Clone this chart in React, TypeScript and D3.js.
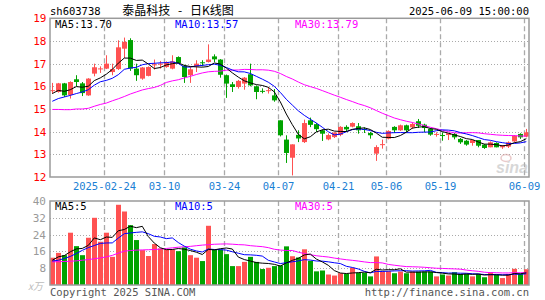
import React from "react";
import * as d3 from "d3";

const dates = [
  "2025-02-11","2025-02-12","2025-02-13","2025-02-14","2025-02-17","2025-02-18","2025-02-19","2025-02-20","2025-02-21","2025-02-24",
  "2025-02-25","2025-02-26","2025-02-27","2025-02-28","2025-03-03","2025-03-04","2025-03-05","2025-03-06","2025-03-07","2025-03-10",
  "2025-03-11","2025-03-12","2025-03-13","2025-03-14","2025-03-17","2025-03-18","2025-03-19","2025-03-20","2025-03-21","2025-03-24",
  "2025-03-25","2025-03-26","2025-03-27","2025-03-28","2025-03-31","2025-04-01","2025-04-02","2025-04-03","2025-04-07","2025-04-08",
  "2025-04-09","2025-04-10","2025-04-11","2025-04-14","2025-04-15","2025-04-16","2025-04-17","2025-04-18","2025-04-21","2025-04-22",
  "2025-04-23","2025-04-24","2025-04-25","2025-04-28","2025-04-29","2025-04-30","2025-05-06","2025-05-07","2025-05-08","2025-05-09",
  "2025-05-12","2025-05-13","2025-05-14","2025-05-15","2025-05-16","2025-05-19","2025-05-20","2025-05-21","2025-05-22","2025-05-23",
  "2025-05-26","2025-05-27","2025-05-28","2025-05-29","2025-05-30","2025-06-03","2025-06-04","2025-06-05","2025-06-06","2025-06-09",
];

const open = [
  15.80,15.75,16.13,15.62,16.31,16.13,15.60,16.56,16.76,16.78,
  16.63,16.76,17.66,18.04,16.78,16.34,16.46,16.94,16.98,16.85,
  16.78,17.29,16.90,16.49,16.88,17.06,17.07,17.32,17.18,16.49,
  16.09,15.97,16.12,16.53,16.00,15.80,15.80,15.60,14.50,13.65,
  12.85,13.86,13.54,14.50,14.33,14.06,13.66,13.76,13.86,14.21,
  14.22,14.24,14.12,13.94,13.03,13.42,13.69,14.21,14.06,14.28,
  14.19,14.46,14.31,14.12,13.88,13.85,13.85,13.90,13.68,13.60,
  13.50,13.63,13.43,13.31,13.50,13.31,13.34,13.57,13.90,13.78,
];
const high = [
  16.15,16.15,16.15,16.22,16.49,16.19,16.36,17.00,16.88,17.37,
  17.00,18.03,18.15,18.12,17.00,16.85,16.88,17.18,17.12,17.10,
  17.37,17.32,16.95,16.85,17.15,17.15,17.85,17.41,17.20,16.52,
  16.19,16.28,16.41,17.00,16.04,15.91,15.97,15.88,14.50,13.84,
  13.44,14.06,14.53,14.62,14.38,14.10,13.92,13.97,14.24,14.28,
  14.41,14.38,14.19,13.99,13.40,13.65,14.06,14.24,14.31,14.31,
  14.41,14.56,14.35,14.16,13.97,13.97,13.93,13.94,13.72,13.63,
  13.63,13.63,13.46,13.57,13.53,13.41,13.57,13.85,13.93,14.12,
];
const low = [
  15.68,15.72,15.53,15.46,16.00,15.57,15.58,16.44,16.59,16.76,
  16.49,16.72,17.25,16.68,16.24,16.29,16.44,16.74,16.78,16.82,
  16.75,17.00,16.15,16.15,16.63,16.88,17.05,17.07,16.38,15.49,
  15.75,15.90,15.85,16.00,15.43,15.69,15.68,15.32,13.79,12.62,
  12.07,13.54,13.50,14.20,13.99,13.59,13.62,13.72,13.80,13.99,
  14.19,13.91,13.94,13.69,12.71,13.25,13.66,13.94,14.03,13.97,
  14.12,14.16,13.97,13.82,13.78,13.60,13.63,13.66,13.46,13.38,
  13.38,13.31,13.24,13.31,13.31,13.24,13.28,13.54,13.68,13.75,
];
const close = [
  15.83,16.13,15.60,16.19,16.19,15.70,16.34,16.84,16.79,17.00,
  16.76,17.72,17.96,16.78,16.49,16.83,16.85,16.97,17.00,17.07,
  17.10,17.03,16.41,16.75,17.00,17.03,17.18,17.19,16.51,16.12,
  15.97,16.24,16.38,16.04,15.75,15.78,15.83,15.38,13.84,13.06,
  13.44,13.70,14.38,14.30,14.11,13.91,13.85,13.96,14.21,14.10,
  14.38,14.06,14.09,13.84,13.32,13.45,14.03,14.06,14.28,14.06,
  14.34,14.26,14.16,13.87,13.90,13.82,13.93,13.75,13.53,13.43,
  13.63,13.38,13.28,13.53,13.31,13.38,13.53,13.82,13.75,13.97,
];
// volume in 万手
const volume = [
  13.0,15.3,14.2,24.9,18.5,14.2,22.5,32.0,20.6,24.9,
  13.4,38.2,35.0,28.5,21.4,16.6,13.8,19.5,17.4,16.9,
  16.9,16.1,17.9,14.2,13.0,11.4,28.2,16.9,16.9,14.7,
  9.0,9.0,11.0,13.4,11.0,7.6,8.2,9.0,9.3,18.4,
  13.7,13.1,17.0,11.5,6.5,6.9,5.0,4.5,5.6,5.3,
  8.2,5.8,5.8,4.1,13.6,6.4,6.6,5.6,6.4,5.6,
  6.4,6.4,6.4,6.4,4.1,5.0,4.5,6.1,5.3,5.3,
  4.1,5.3,3.7,6.1,5.0,3.3,5.3,7.7,5.3,7.5,
];

// moving-average values for days before enough history is in view
const ma5Lead = [15.68, 15.82, 15.78, 15.85];
const ma10Lead = [15.34, 15.46, 15.53, 15.6, 15.68, 15.75, 15.85, 16.05, 16.2];
const ma30Lead = [14.98,14.98,14.97,14.97,15.00,15.00,15.03,15.12,15.20,15.26,15.36,15.45,15.55,15.66,15.75,15.84,15.90,15.95,16.04,16.17,16.24,16.29,16.37,16.44,16.52,16.59,16.64,16.66,16.67];
const volMa5Lead = [11.8, 13.4, 14.0, 15.8];
const volMa10Lead = [11.4, 11.8, 12.6, 13.6, 15.0, 16.5, 17.8, 18.8, 19.8];
const volMa30Lead = [11.0,11.1,11.2,11.3,11.5,11.8,12.1,12.5,12.9,13.4,14.1,15.2,16.1,16.4,16.6,16.7,16.8,16.9,17.1,17.4,17.7,18.0,18.2,18.4,18.7,19.0,19.2,19.4,19.5];

const priceTicks = [12, 13, 14, 15, 16, 17, 18, 19];
const volTicks = [8, 16, 24, 32, 40];
const dateTicks = ["2025-02-24","2025-03-10","2025-03-24","2025-04-07","2025-04-21","2025-05-06","2025-05-19","2025-06-09"];
const dateTickLabels = ["2025-02-24","03-10","03-24","04-07","04-21","05-06","05-19","06-09"];

const stockCode = "sh603738";
const titleText = "泰晶科技 - 日K线图";
const timeText = "2025-06-09 15:00:00";
const priceLegend = ["MA5:13.70", "MA10:13.57", "MA30:13.79"];
const volLegend = ["MA5:5", "MA10:5", "MA30:5"];

function movingAvg(vals: number[], n: number, lead: number[]): number[] {
  return vals.map((_, i) => (i < n - 1 ? lead[i] : (d3.mean(vals.slice(i - n + 1, i + 1)) as number)));
}

const RED = "#ff5252";
const GREEN = "#00a300";
const GRID = "#aaaaaa";
const BORDER = "#9a9a9a";
const MONO = "'DejaVu Sans Mono', monospace";

export default function App() {
  const left = 50, right = 529;
  const pTop = 18.3, pBottom = 177;
  const vTop = 201, vBottom = 285;

  const x = d3.scaleBand<string>().domain(dates).range([49.3, 529.3]).paddingInner(1 / 6).paddingOuter(1 / 12);
  const bw = x.bandwidth();
  const cx = (d: string) => (x(d) as number) + bw / 2;
  const yP = d3.scaleLinear().domain([12, 19]).range([pBottom, pTop]);
  const yV = d3.scaleLinear().domain([0, 40]).range([vBottom, vTop]);

  const ma5 = movingAvg(close, 5, ma5Lead);
  const ma10 = movingAvg(close, 10, ma10Lead);
  const ma30 = movingAvg(close, 30, ma30Lead);
  const vma5 = movingAvg(volume, 5, volMa5Lead);
  const vma10 = movingAvg(volume, 10, volMa10Lead);
  const vma30 = movingAvg(volume, 30, volMa30Lead);

  const lineP = d3.line<number>().x((_, i) => cx(dates[i])).y((v) => yP(v));
  const lineV = d3.line<number>().x((_, i) => cx(dates[i])).y((v) => yV(v));

  const up = (i: number) => close[i] >= open[i];

  return (
    <svg width={545} height={300} style={{ position: "absolute", left: 0, top: 0, background: "#fff" }} fontFamily={MONO}>
      <rect x={0} y={0} width={545} height={300} fill="#fff" />
      {/* header */}
      <text x={50} y={15} fontSize={10.5} fill="#000">{stockCode}</text>
      <text x={178} y={14.5} fontSize={12} textAnchor="middle" fill="#000" wordSpacing={5} fontFamily="'Noto Sans CJK SC', sans-serif">{titleText}</text>
      <text x={529} y={15} fontSize={10.5} textAnchor="end" fill="#000">{timeText}</text>

      {/* price grid */}
      {priceTicks.filter((t) => t > 12 && t < 19).map((t) => (
        <line key={"pg" + t} x1={left} x2={right} y1={Math.round(yP(t)) + 0.5} y2={Math.round(yP(t)) + 0.5} stroke={GRID} strokeDasharray="1,2" />
      ))}
      {volTicks.filter((t) => t < 40).map((t) => (
        <line key={"vg" + t} x1={left} x2={right} y1={Math.round(yV(t)) + 0.5} y2={Math.round(yV(t)) + 0.5} stroke={GRID} strokeDasharray="1,2" />
      ))}
      {dateTicks.map((d) => {
        const gx = Math.round((x(d) as number) + 0.3) + 0.5;
        return (
          <g key={"vd" + d}>
            <line x1={gx} x2={gx} y1={pTop} y2={pBottom} stroke={GRID} strokeWidth={1.3} strokeDasharray="5,3" />
            <line x1={gx} x2={gx} y1={vTop} y2={vBottom} stroke={GRID} strokeWidth={1.3} strokeDasharray="5,3" />
          </g>
        );
      })}

      {/* watermark */}
      <g opacity={0.55}>
        <ellipse cx={506} cy={158} rx={5} ry={3.5} fill="none" stroke="#d9a0a0" strokeWidth={1.5} />
        <text x={496} y={173} fontSize={16} fontStyle="italic" fontWeight="bold" fill="#b8b8b8" fontFamily="'Liberation Sans', sans-serif">sina</text>
      </g>

      {/* candles */}
      {dates.map((d, i) => {
        const c = up(i) ? RED : GREEN;
        const xc = Math.round(cx(d)) + 0.5;
        const yo = yP(open[i]), yc = yP(close[i]);
        const top = Math.min(yo, yc);
        const h = Math.max(1, Math.abs(yo - yc));
        return (
          <g key={"c" + d}>
            <line x1={xc} x2={xc} y1={yP(high[i])} y2={yP(low[i])} stroke={c} strokeWidth={1} />
            <rect x={xc - 2.5} y={top} width={5} height={h} fill={c} />
          </g>
        );
      })}
      <path d={lineP(ma30) as string} fill="none" stroke="#ff00ff" strokeWidth={1} />
      <path d={lineP(ma10) as string} fill="none" stroke="#0000ff" strokeWidth={1} />
      <path d={lineP(ma5) as string} fill="none" stroke="#000" strokeWidth={1} />

      {/* volume bars */}
      {dates.map((d, i) => {
        const xc = Math.round(cx(d)) + 0.5;
        return <rect key={"v" + d} x={xc - 2.5} y={yV(volume[i])} width={5} height={vBottom - yV(volume[i])} fill={up(i) ? RED : GREEN} />;
      })}
      <path d={lineV(vma30) as string} fill="none" stroke="#ff00ff" strokeWidth={1} />
      <path d={lineV(vma10) as string} fill="none" stroke="#0000ff" strokeWidth={1} />
      <path d={lineV(vma5) as string} fill="none" stroke="#000" strokeWidth={1} />

      {/* borders */}
      <rect x={left} y={pTop} width={right - left} height={pBottom - pTop} fill="none" stroke={BORDER} strokeWidth={1.5} />
      <rect x={left} y={vTop} width={right - left} height={vBottom - vTop} fill="none" stroke={BORDER} strokeWidth={1.5} />

      {/* legends */}
      <text x={55} y={28} fontSize={10.5} fill="#000">{priceLegend[0]}</text>
      <text x={175} y={28} fontSize={10.5} fill="#0000ff">{priceLegend[1]}</text>
      <text x={295} y={28} fontSize={10.5} fill="#ff00ff">{priceLegend[2]}</text>
      <text x={55} y={210} fontSize={10.5} fill="#000">{volLegend[0]}</text>
      <text x={175} y={210} fontSize={10.5} fill="#0000ff">{volLegend[1]}</text>
      <text x={295} y={210} fontSize={10.5} fill="#ff00ff">{volLegend[2]}</text>

      {/* y axes */}
      {priceTicks.map((t) => (
        <text key={"pl" + t} x={46.5} y={yP(t) + 4} fontSize={11} textAnchor="end" fill="#ff0000">{t}</text>
      ))}
      {volTicks.map((t) => (
        <text key={"vl" + t} x={46} y={yV(t) + 4} fontSize={11} textAnchor="end" fill="#999">{t}</text>
      ))}
      <text x={28} y={290} fontSize={10} fill="#bbb" fontStyle="italic" fontFamily="'Noto Sans CJK SC', sans-serif">x万</text>

      {/* x axis */}
      {dateTicks.map((d, k) => (
        <text key={"dl" + d} x={Math.round((x(d) as number) + 0.3) + 0.5} y={190} fontSize={10.5} textAnchor="middle" fill="#1a80d4">{dateTickLabels[k]}</text>
      ))}

      {/* footer */}
      <text x={50} y={296} fontSize={10.5} fill="#555">Copyright 2025 SINA.COM</text>
      <text x={529} y={296} fontSize={10.5} textAnchor="end" fill="#555">http://finance.sina.com.cn</text>
    </svg>
  );
}
